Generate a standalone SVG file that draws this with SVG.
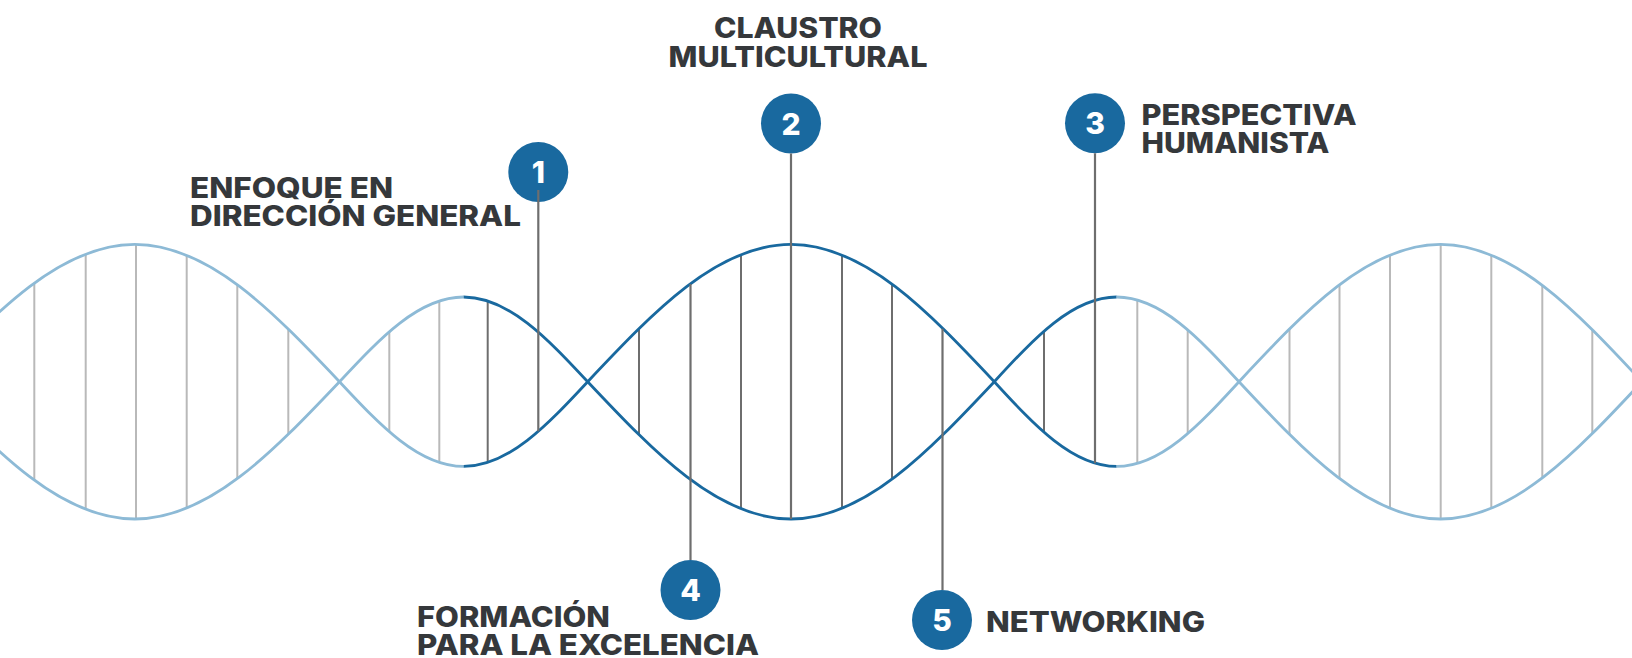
<svg xmlns="http://www.w3.org/2000/svg" width="1632" height="658" viewBox="0 0 1632 658">
<style>
.lbl{font-family:Inter,"Open Sans","Liberation Sans",sans-serif;font-weight:800;font-size:28px;fill:#35383b}
.num{font-family:Inter,"Open Sans","Liberation Sans",sans-serif;font-weight:800;font-size:30px;fill:#ffffff;text-anchor:middle}
.dot{fill:#19699f}
.sl{fill:none;stroke:#8dbad6;stroke-width:2.8}
.sd{fill:none;stroke:#19699f;stroke-width:2.8}
.rl{stroke:#b9b9b9;stroke-width:2}
.rd{stroke:#6e6e6e;stroke-width:2}
.ln{stroke:#6e6e6e;stroke-width:2.2}
</style>
<rect width="1632" height="658" fill="#ffffff"/>
<g id="nodes">
  <g id="node1">
    <circle class="dot" cx="538.3" cy="172" r="30"/>
    <text class="num" x="538.3" y="183">1</text>
    <text class="lbl" x="190" y="197.5" textLength="203" lengthAdjust="spacingAndGlyphs">ENFOQUE EN</text>
    <text class="lbl" x="190" y="225.5" textLength="331" lengthAdjust="spacingAndGlyphs">DIRECCIÓN GENERAL</text>
  </g>
  <g id="node2">
    <circle class="dot" cx="791" cy="123.5" r="30"/>
    <text class="num" x="791" y="134.5">2</text>
    <text class="lbl" x="714" y="38" textLength="168" lengthAdjust="spacingAndGlyphs">CLAUSTRO</text>
    <text class="lbl" x="668.5" y="66.8" textLength="259" lengthAdjust="spacingAndGlyphs">MULTICULTURAL</text>
  </g>
  <g id="node3">
    <circle class="dot" cx="1095" cy="123.3" r="30"/>
    <text class="num" x="1095" y="134.3">3</text>
    <text class="lbl" x="1141.5" y="125" textLength="215" lengthAdjust="spacingAndGlyphs">PERSPECTIVA</text>
    <text class="lbl" x="1141.5" y="152.8" textLength="188" lengthAdjust="spacingAndGlyphs">HUMANISTA</text>
  </g>
  <g id="node4">
    <circle class="dot" cx="690.5" cy="590" r="30"/>
    <text class="num" x="690.5" y="601">4</text>
    <text class="lbl" x="417" y="627.3" textLength="193" lengthAdjust="spacingAndGlyphs">FORMACIÓN</text>
    <text class="lbl" x="417" y="655" textLength="342" lengthAdjust="spacingAndGlyphs">PARA LA EXCELENCIA</text>
  </g>
  <g id="node5">
    <circle class="dot" cx="942" cy="620" r="30"/>
    <text class="num" x="942" y="631">5</text>
    <text class="lbl" x="986" y="631.7" textLength="219" lengthAdjust="spacingAndGlyphs">NETWORKING</text>
  </g>
</g>
<g id="connectors">
  <g id="rungs">
    <line class="rl" x1="34.3" y1="283.2" x2="34.3" y2="480.2"/>
    <line class="rl" x1="85.7" y1="254" x2="85.7" y2="509.4"/>
    <line class="rl" x1="136" y1="244.4" x2="136" y2="519"/>
    <line class="rl" x1="186.7" y1="255.2" x2="186.7" y2="508.2"/>
    <line class="rl" x1="237.3" y1="284.8" x2="237.3" y2="478.6"/>
    <line class="rl" x1="288.3" y1="329.1" x2="288.3" y2="434.3"/>
    <line class="rl" x1="389.3" y1="331.8" x2="389.3" y2="431.6"/>
    <line class="rl" x1="439.3" y1="301" x2="439.3" y2="462.4"/>
    <line class="rd" x1="487.7" y1="300.9" x2="487.7" y2="462.5"/>
    <line class="rd" x1="639" y1="328.7" x2="639" y2="434.7"/>
    <line class="rd" x1="741" y1="254.5" x2="741" y2="508.9"/>
    <line class="rd" x1="842" y1="254.9" x2="842" y2="508.5"/>
    <line class="rd" x1="892" y1="284.1" x2="892" y2="479.3"/>
    <line class="rd" x1="1044" y1="331.2" x2="1044" y2="432.2"/>
    <line class="rl" x1="1137.3" y1="300" x2="1137.3" y2="463.4"/>
    <line class="rl" x1="1187.7" y1="329.9" x2="1187.7" y2="433.5"/>
    <line class="rl" x1="1289.5" y1="328.5" x2="1289.5" y2="434.9"/>
    <line class="rl" x1="1339.5" y1="284.4" x2="1339.5" y2="479"/>
    <line class="rl" x1="1390" y1="254.9" x2="1390" y2="508.5"/>
    <line class="rl" x1="1440.7" y1="244.4" x2="1440.7" y2="519"/>
    <line class="rl" x1="1491.3" y1="255" x2="1491.3" y2="508.4"/>
    <line class="rl" x1="1542.3" y1="285.4" x2="1542.3" y2="478"/>
    <line class="rl" x1="1592.3" y1="329.8" x2="1592.3" y2="433.6"/>
  </g>
  <g id="strands">
    <path class="sl" d="M -70 381.7 C -3.23 311.36, 60.65 244.4, 134.75 244.4 C 208.85 244.4, 272.73 311.36, 339.5 381.7 C 379.97 425.09, 418.69 466.4, 463.6 466.4"/>
    <path class="sl" d="M -70 381.7 C -3.23 452.04, 60.65 519, 134.75 519 C 208.85 519, 272.73 452.04, 339.5 381.7 C 379.97 338.31, 418.69 297, 463.6 297"/>
    <path class="sd" d="M 463.6 466.4 C 508.51 466.4, 547.23 425.09, 587.7 381.7 C 654 311.36, 717.43 244.4, 791 244.4 C 864.57 244.4, 928 311.36, 994.3 381.7 C 1034.2 425.09, 1072.37 466.4, 1116.65 466.4"/>
    <path class="sd" d="M 463.6 297 C 508.51 297, 547.23 338.31, 587.7 381.7 C 654 452.04, 717.43 519, 791 519 C 864.57 519, 928 452.04, 994.3 381.7 C 1034.2 338.31, 1072.37 297, 1116.65 297"/>
    <path class="sl" d="M 1116.65 466.4 C 1160.93 466.4, 1199.1 425.09, 1239 381.7 C 1304.71 311.36, 1367.58 244.4, 1440.5 244.4 C 1513.42 244.4, 1576.29 311.36, 1642 381.7"/>
    <path class="sl" d="M 1116.65 297 C 1160.93 297, 1199.1 338.31, 1239 381.7 C 1304.71 452.04, 1367.58 519, 1440.5 519 C 1513.42 519, 1576.29 452.04, 1642 381.7"/>
  </g>
  <g id="leaders">
    <line class="ln" x1="538.3" y1="190" x2="538.3" y2="431.3"/>
    <line class="ln" x1="791" y1="153.5" x2="791" y2="519"/>
    <line class="ln" x1="1095" y1="153.3" x2="1095" y2="463.2"/>
    <line class="ln" x1="690.5" y1="284.1" x2="690.5" y2="560"/>
    <line class="ln" x1="942.5" y1="328.7" x2="942.5" y2="590"/>
  </g>
</g>
</svg>
